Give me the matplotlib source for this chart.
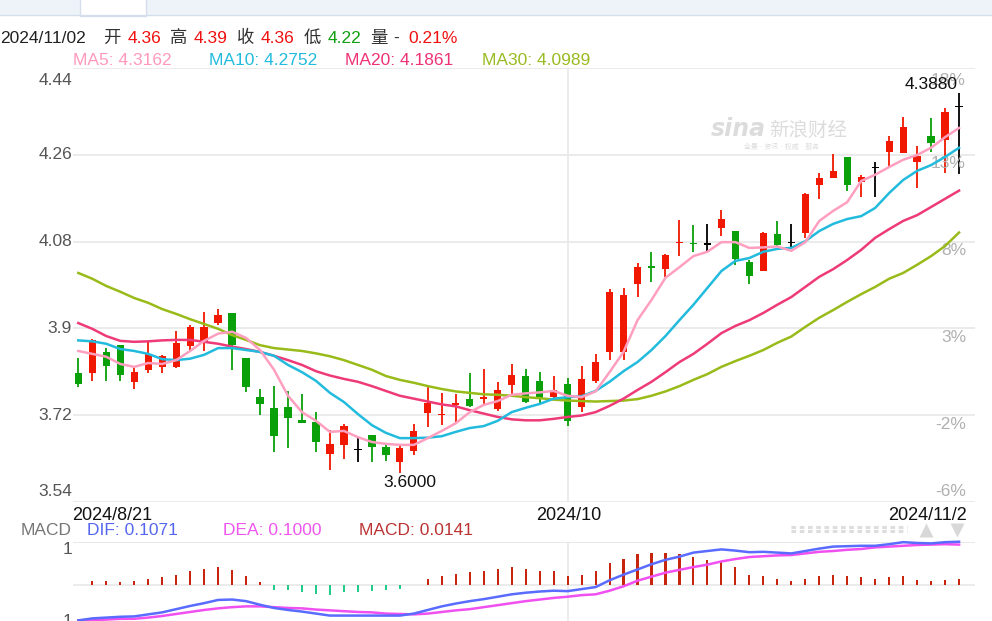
import numpy as np
import matplotlib
matplotlib.use("Agg")
import matplotlib.pyplot as plt
from matplotlib.patches import Rectangle

plt.rcParams['font.family'] = ['Liberation Sans', 'Noto Sans CJK SC', 'DejaVu Sans']

# ---------------- data ----------------
opens = [3.807, 3.808, 3.850, 3.865, 3.789, 3.814, 3.820, 3.819, 3.863, 3.871,
         3.911, 3.931, 3.838, 3.757, 3.734, 3.737, 3.710, 3.706, 3.639, 3.658,
         3.649, 3.679, 3.654, 3.623, 3.645, 3.724, 3.720, 3.741, 3.753, 3.753,
         3.733, 3.782, 3.801, 3.791, 3.758, 3.784, 3.736, 3.791, 3.850, 3.850,
         3.992, 4.030, 4.023, 4.078, 4.077, 4.075, 4.108, 4.103, 4.038, 4.019,
         4.096, 4.078, 4.097, 4.198, 4.213, 4.255, 4.203, 4.234, 4.267, 4.264,
         4.246, 4.300, 4.291, 4.360]
highs = [3.838, 3.877, 3.859, 3.865, 3.819, 3.872, 3.845, 3.895, 3.906, 3.933,
         3.940, 3.931, 3.839, 3.774, 3.781, 3.770, 3.763, 3.726, 3.689, 3.701,
         3.675, 3.679, 3.661, 3.656, 3.701, 3.780, 3.766, 3.764, 3.808, 3.815,
         3.788, 3.826, 3.816, 3.809, 3.802, 3.796, 3.822, 3.846, 3.982, 3.984,
         4.035, 4.059, 4.054, 4.125, 4.115, 4.117, 4.146, 4.103, 4.042, 4.101,
         4.122, 4.116, 4.181, 4.222, 4.262, 4.255, 4.219, 4.246, 4.300, 4.338,
         4.279, 4.336, 4.358, 4.388]
lows = [3.778, 3.791, 3.791, 3.791, 3.775, 3.808, 3.807, 3.818, 3.852, 3.853,
        3.907, 3.814, 3.767, 3.720, 3.644, 3.651, 3.703, 3.644, 3.606, 3.629,
        3.623, 3.623, 3.625, 3.600, 3.638, 3.695, 3.699, 3.703, 3.736, 3.741,
        3.729, 3.758, 3.744, 3.744, 3.751, 3.697, 3.727, 3.787, 3.834, 3.834,
        3.966, 3.997, 4.007, 4.051, 4.059, 4.059, 4.092, 4.032, 3.992, 4.019,
        4.070, 4.066, 4.087, 4.168, 4.213, 4.186, 4.173, 4.173, 4.232, 4.264,
        4.191, 4.267, 4.222, 4.220]
closes = [3.784, 3.876, 3.822, 3.803, 3.810, 3.847, 3.843, 3.869, 3.903, 3.903,
          3.928, 3.865, 3.779, 3.742, 3.677, 3.714, 3.704, 3.663, 3.660, 3.697,
          3.649, 3.654, 3.636, 3.651, 3.687, 3.744, 3.722, 3.745, 3.739, 3.758,
          3.772, 3.803, 3.748, 3.755, 3.772, 3.708, 3.794, 3.831, 3.975, 3.969,
          4.027, 4.026, 4.052, 4.080, 4.075, 4.075, 4.127, 4.044, 4.009, 4.097,
          4.073, 4.078, 4.178, 4.212, 4.227, 4.198, 4.215, 4.234, 4.289, 4.318,
          4.257, 4.284, 4.350, 4.360]

ma5 = [3.853, 3.847, 3.841, 3.826, 3.820, 3.828, 3.826, 3.834, 3.853, 3.874,
       3.889, 3.893, 3.880, 3.855, 3.814, 3.760, 3.726, 3.708, 3.685, 3.687,
       3.674, 3.664, 3.660, 3.658, 3.658, 3.672, 3.687, 3.703, 3.726, 3.741,
       3.749, 3.762, 3.765, 3.767, 3.770, 3.760, 3.757, 3.769, 3.809, 3.851,
       3.917, 3.959, 4.005, 4.027, 4.050, 4.059, 4.079, 4.079, 4.067, 4.068,
       4.070, 4.061, 4.079, 4.123, 4.144, 4.162, 4.206, 4.219, 4.235, 4.250,
       4.260, 4.275, 4.297, 4.316]
ma10 = [3.875, 3.873, 3.868, 3.857, 3.853, 3.847, 3.836, 3.834, 3.837, 3.845,
        3.859, 3.859, 3.855, 3.851, 3.843, 3.824, 3.809, 3.791, 3.766, 3.747,
        3.722, 3.699, 3.683, 3.672, 3.672, 3.673, 3.676, 3.685, 3.693, 3.697,
        3.708, 3.726, 3.735, 3.743, 3.754, 3.757, 3.759, 3.770, 3.789, 3.811,
        3.830, 3.855, 3.884, 3.917, 3.949, 3.984, 4.019, 4.040, 4.046, 4.059,
        4.065, 4.067, 4.081, 4.102, 4.117, 4.127, 4.133, 4.150, 4.181, 4.208,
        4.227, 4.239, 4.256, 4.275]
ma20 = [3.911, 3.899, 3.884, 3.874, 3.872, 3.873, 3.875, 3.876, 3.876, 3.872,
        3.868, 3.862, 3.857, 3.851, 3.843, 3.834, 3.824, 3.811, 3.802, 3.795,
        3.789, 3.780, 3.770, 3.760, 3.754, 3.748, 3.742, 3.738, 3.730, 3.723,
        3.716, 3.711, 3.709, 3.709, 3.712, 3.716, 3.719, 3.726, 3.739, 3.754,
        3.772, 3.789, 3.809, 3.830, 3.847, 3.868, 3.890, 3.905, 3.917, 3.932,
        3.949, 3.965, 3.986, 4.007, 4.023, 4.042, 4.063, 4.088, 4.106, 4.123,
        4.135, 4.152, 4.169, 4.186]
ma30 = [4.015, 4.003, 3.988, 3.976, 3.963, 3.953, 3.940, 3.930, 3.919, 3.909,
        3.899, 3.886, 3.876, 3.865, 3.859, 3.856, 3.853, 3.848, 3.842, 3.834,
        3.824, 3.814, 3.801, 3.793, 3.787, 3.780, 3.774, 3.769, 3.766, 3.763,
        3.762, 3.760, 3.757, 3.755, 3.752, 3.750, 3.749, 3.748, 3.749, 3.750,
        3.753, 3.760, 3.769, 3.780, 3.793, 3.805, 3.820, 3.832, 3.843, 3.855,
        3.870, 3.883, 3.903, 3.922, 3.938, 3.955, 3.971, 3.986, 4.003, 4.015,
        4.032, 4.050, 4.071, 4.099]

dif = [-0.089, -0.084, -0.082, -0.080, -0.079, -0.074, -0.069, -0.061, -0.053, -0.046,
       -0.038, -0.037, -0.041, -0.050, -0.058, -0.063, -0.067, -0.072, -0.077, -0.077,
       -0.077, -0.077, -0.077, -0.077, -0.072, -0.063, -0.054, -0.047, -0.041, -0.036,
       -0.030, -0.024, -0.020, -0.017, -0.015, -0.016, -0.011, -0.006, 0.011, 0.025,
       0.038, 0.051, 0.062, 0.070, 0.080, 0.084, 0.088, 0.085, 0.081, 0.082,
       0.080, 0.078, 0.084, 0.090, 0.095, 0.096, 0.097, 0.097, 0.101, 0.106,
       0.104, 0.103, 0.106, 0.1071]
dea = [-0.089, -0.088, -0.087, -0.085, -0.085, -0.082, -0.078, -0.073, -0.068, -0.063,
       -0.059, -0.056, -0.054, -0.054, -0.056, -0.058, -0.059, -0.062, -0.064, -0.066,
       -0.068, -0.069, -0.072, -0.073, -0.074, -0.072, -0.068, -0.064, -0.061, -0.056,
       -0.051, -0.046, -0.041, -0.037, -0.033, -0.030, -0.026, -0.024, -0.015, -0.004,
       0.010, 0.020, 0.030, 0.037, 0.044, 0.050, 0.058, 0.064, 0.069, 0.071,
       0.073, 0.074, 0.078, 0.082, 0.084, 0.087, 0.089, 0.093, 0.095, 0.097,
       0.099, 0.100, 0.101, 0.100]
macd_hist = [0.000, 0.008, 0.008, 0.006, 0.008, 0.014, 0.018, 0.025, 0.033, 0.039,
             0.044, 0.037, 0.021, 0.006, -0.012, -0.014, -0.019, -0.022, -0.025, -0.018,
             -0.017, -0.015, -0.014, -0.011, 0.000, 0.014, 0.021, 0.027, 0.031, 0.035,
             0.039, 0.044, 0.039, 0.035, 0.033, 0.022, 0.025, 0.033, 0.054, 0.064,
             0.076, 0.078, 0.078, 0.076, 0.070, 0.062, 0.059, 0.043, 0.025, 0.022,
             0.014, 0.008, 0.015, 0.022, 0.025, 0.021, 0.018, 0.015, 0.018, 0.022,
             0.012, 0.008, 0.012, 0.0141]

date_labels = ["2024/8/21", "2024/10", "2024/11/2"]
date_label_idx = [0, 35, 63]
price_ticks = [4.44, 4.26, 4.08, 3.90, 3.72, 3.54]
price_tick_labels = ["4.44", "4.26", "4.08", "3.9", "3.72", "3.54"]
pct_labels = ["18%", "13%", "8%", "3%", "-2%", "-6%"]

header_parts = [("2024/11/02", "#222222"), ("开", "#333333"), ("4.36", "#f01010"),
                ("高", "#333333"), ("4.39", "#f01010"), ("收", "#333333"),
                ("4.36", "#f01010"), ("低", "#333333"), ("4.22", "#10a010"),
                ("量", "#333333"), ("-", "#333333"), ("0.21%", "#f01010")]
header_x = [0, 103, 128, 170, 194, 237, 261, 304, 328, 370, 393, 408]

ma_legend = [("MA5: 4.3162", "#ff99bb", 73), ("MA10: 4.2752", "#22bbdd", 209),
             ("MA20: 4.1861", "#ee3377", 345), ("MA30: 4.0989", "#99bb22", 482)]
macd_legend = [("MACD", "#777777", 21), ("DIF: 0.1071", "#5566ee", 87),
               ("DEA: 0.1000", "#ee55ee", 223), ("MACD: 0.0141", "#bb3333", 359)]

# ---------------- styling ----------------
RED = "#f01800"
GREEN = "#0aa00a"
C_MA5, C_MA10, C_MA20, C_MA30 = "#ff9fc0", "#22bbdd", "#ee3a78", "#99bb1a"
GRID = "#e8e8e8"
FS = 12.5

W, H = 992, 621
fig = plt.figure(figsize=(W / 100, H / 100), dpi=100)
fig.patch.set_facecolor("white")

deco = fig.add_axes([0, 0, 1, 1], zorder=0)
deco.set_xlim(0, W)
deco.set_ylim(H, 0)
deco.axis("off")

# top tab strip
deco.add_patch(Rectangle((0, 0), W, 14.5, facecolor="#eef3fa", edgecolor="none"))
deco.plot([0, W], [14.5, 14.5], color="#d5dfec", lw=1)
deco.add_patch(Rectangle((80, -2), 66, 17.5, facecolor="white", edgecolor="#d5dfec", lw=1))
deco.text(113, -6, "日K", ha="center", va="center", fontsize=13, color="#333333")
deco.text(172, -6, "周K", ha="center", va="center", fontsize=13, color="#333333")
deco.text(238, -6, "月K", ha="center", va="center", fontsize=13, color="#333333")

def ptxt(x, y, s, color, ha="left", fs=FS, **kw):
    deco.text(x, y, s, color=color, ha=ha, va="baseline", fontsize=fs, **kw)

for (s, c), x in zip(header_parts, header_x):
    ptxt(x, 43, s, c)
for s, c, x in ma_legend:
    ptxt(x, 65, s, c)
for s, c, x in macd_legend:
    ptxt(x, 535, s, c)

# scroll bar & arrows (decorations)
for yy in (526.5, 531.0):
    deco.plot([791, 907], [yy, yy], color="#dddddd", lw=2.2, dashes=(1.5, 1.2))
deco.plot([926], [530], marker="^", ms=10, color="#d8d8d8", mec="none")
deco.plot([957], [530], marker="v", ms=10, color="#d8d8d8", mec="none")

# ---------------- main candlestick axes ----------------
x = np.arange(len(opens))
o = np.array(opens); c = np.array(closes); h = np.array(highs); l = np.array(lows)

left_px, right_px = 73, 975
top_px, bot_px = 68.3, 501.7
ax = fig.add_axes([left_px / W, 1 - bot_px / H, (right_px - left_px) / W, (bot_px - top_px) / H], zorder=2)
ax.set_facecolor("none")
ax.set_xlim(-0.379, 64.14)
ax.set_ylim(3.54, 4.44)
ax.axis("off")

for v in price_ticks:
    ax.axhline(v, color=GRID, lw=1.2, zorder=0)
ax.axvline(date_label_idx[1], color=GRID, lw=1.2, zorder=0)

# watermark
ax.text(0.768, 0.86, "sina", transform=ax.transAxes, fontsize=17, color="#dcdcdc",
        fontweight="bold", style="italic", ha="right", va="center", zorder=0.5,
        family=["DejaVu Sans"])
ax.text(0.815, 0.855, "新浪财经", transform=ax.transAxes, fontsize=14, color="#dcdcdc",
        ha="center", va="center", zorder=0.5)
ax.text(0.785, 0.818, "全景 · 资讯 · 权威 · 服务", transform=ax.transAxes, fontsize=5,
        color="#dcdcdc", ha="center", va="center", zorder=0.5)

cols = [RED if cc > oo else (GREEN if cc < oo else "#000000") for oo, cc in zip(o, c)]
ax.vlines(x, l, h, colors=cols, lw=1.3, zorder=2)
body_h = np.maximum(np.abs(c - o), 0.0024)
body_b = np.where(np.abs(c - o) < 0.0024, (o + c) / 2 - 0.0012, np.minimum(o, c))
ax.bar(x, body_h, bottom=body_b, width=0.52, color=cols, lw=0, zorder=3)

ax.plot(x, ma30, color=C_MA30, lw=1.8, zorder=4)
ax.plot(x, ma20, color=C_MA20, lw=1.8, zorder=4)
ax.plot(x, ma10, color=C_MA10, lw=1.8, zorder=4)
ax.plot(x, ma5, color=C_MA5, lw=1.8, zorder=4)

# price labels (left) and percent labels (right)
for i, (v, s) in enumerate(zip(price_ticks, price_tick_labels)):
    dy = -12 if i == 0 else (10 if i == len(price_ticks) - 1 else 0)
    ax.annotate(s, xy=(0, v), xycoords=("axes fraction", "data"), xytext=(-1, dy),
                textcoords="offset pixels", ha="right", va="center", fontsize=FS,
                color="#555555", annotation_clip=False)
for i, (v, s) in enumerate(zip(price_ticks, pct_labels)):
    dy = -12 if i == 0 else (10 if i == len(price_ticks) - 1 else -9)
    ax.annotate(s, xy=(1, v), xycoords=("axes fraction", "data"), xytext=(-9, dy),
                textcoords="offset pixels", ha="right", va="center", fontsize=FS,
                color="#b0b0b0", annotation_clip=False)

imax = int(np.argmax(h)); imin = int(np.argmin(l))
ax.annotate(f"{h[imax]:.4f}", xy=(imax, h[imax]), xytext=(-28, 9), textcoords="offset pixels",
            ha="center", va="center", fontsize=FS, color="#111111", annotation_clip=False, zorder=6)
ax.annotate(f"{l[imin]:.4f}", xy=(imin, l[imin]), xytext=(10, -10), textcoords="offset pixels",
            ha="center", va="center", fontsize=FS, color="#111111", annotation_clip=False, zorder=6)

# date labels
for s, idx in zip(date_labels, date_label_idx):
    ha = "left" if idx == 0 else ("right" if idx == len(opens) - 1 else "center")
    dx = -6 if idx == 0 else (8 if ha == "right" else 1)
    ax.annotate(s, xy=(idx, 0), xycoords=("data", "axes fraction"), xytext=(dx, -18.5),
                textcoords="offset pixels", ha=ha, va="baseline", fontsize=13,
                color="#111111", annotation_clip=False)

# ---------------- MACD axes ----------------
mtop = 541.7
ax2 = fig.add_axes([left_px / W, 0, (right_px - left_px) / W, (H - mtop) / H], zorder=2)
ax2.set_facecolor("none")
ax2.set_xlim(-0.379, 64.14)
ax2.set_ylim(-0.0905, 0.1072)
ax2.axis("off")
ax2.axhline(0.1072, color=GRID, lw=1.4, zorder=0)
ax2.axhline(0.0, color=GRID, lw=1.2, zorder=0)
ax2.axvline(date_label_idx[1], color=GRID, lw=1.2, zorder=0)

mh = np.array(macd_hist)
hcols = ["#c8260c" if v >= 0 else "#22cc88" for v in mh]
ax2.bar(x, mh, width=0.15, color=hcols, lw=0, zorder=2)
ax2.plot(x, dea, color="#f050f0", lw=1.8, zorder=3, clip_on=False)
ax2.plot(x, dif, color="#5a6bff", lw=1.8, zorder=4, clip_on=False)

deco.text(72, 550, "1", ha="right", va="center", fontsize=FS, color="#555555")
deco.text(72, 621, "1", ha="right", va="center", fontsize=FS, color="#555555")

fig.savefig("out.png", dpi=100)
